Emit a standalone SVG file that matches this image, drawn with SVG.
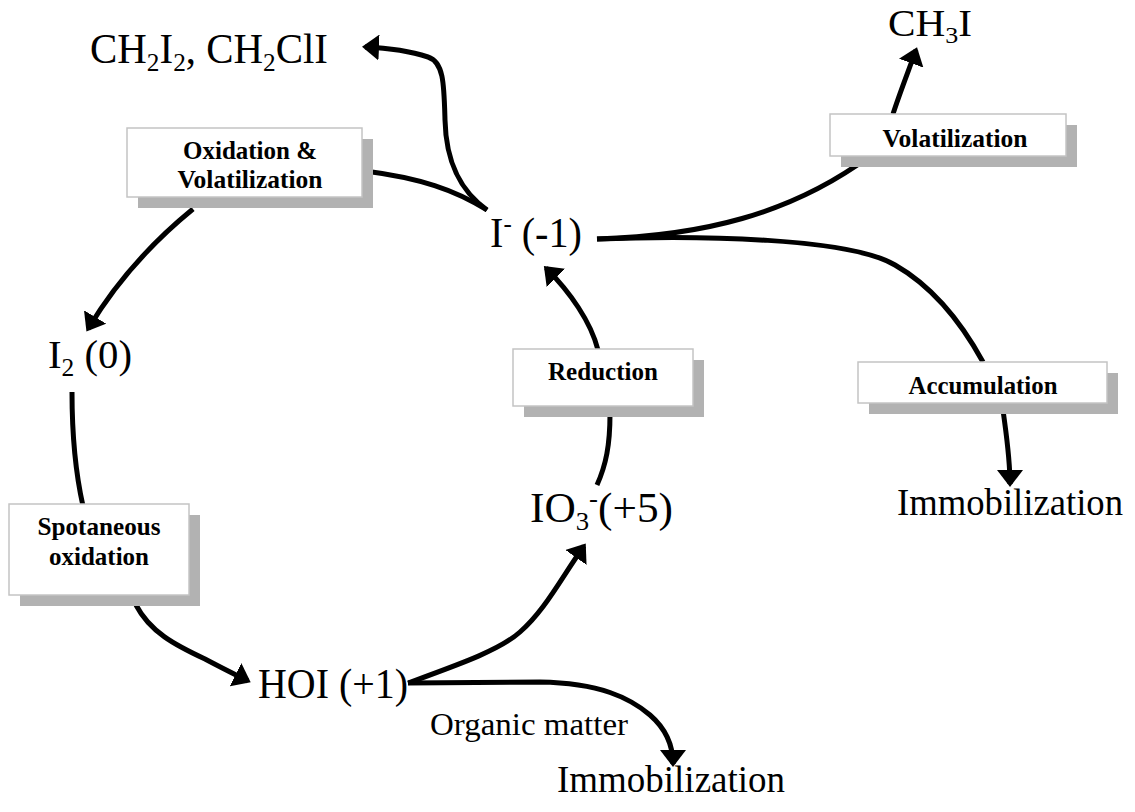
<svg xmlns="http://www.w3.org/2000/svg" width="1135" height="812" viewBox="0 0 1135 812">
<defs>
<style>
.c{fill:none;stroke:#000;stroke-width:5;stroke-linecap:butt}
.a{marker-end:url(#ah)}
.t{font-family:"Liberation Serif","Times New Roman",serif;fill:#000}
.b{font-family:"Liberation Serif","Times New Roman",serif;font-weight:bold;font-size:25px;fill:#000;text-anchor:middle}
.box{fill:#fff;stroke:#c4c4c4;stroke-width:1.5}
.sh{fill:#b2b2b2}
</style>
<marker id="ah" markerUnits="userSpaceOnUse" viewBox="0 0 17 26" markerWidth="17" markerHeight="26" refX="14" refY="13" orient="auto">
<path d="M0,0 L17,13 L0,26 Z" fill="#000"/>
</marker>
</defs>
<rect width="1135" height="812" fill="#fff"/>
<g id="connectors">
<path class="c" d="M487,210 C455,190 420,178 365,171"/>
<path class="c a" d="M193,209 Q128,262 88,329"/>
<path class="c a" d="M487,210 C462,192 446,165 445,120 C444,85 444,62 428,57 C410,51 388,48 365,47"/>
<path class="c" d="M597,239 C700,236 790,215 870,156"/>
<path class="c a" d="M893,114 C898,98 905,80 916,50"/>
<path class="c" d="M597,239 C700,235 850,238 895,265 C930,285 960,320 983,362"/>
<path class="c a" d="M1003,410 C1007,440 1010,458 1010,484"/>
<path class="c" d="M597,485 C606,465 610,445 610,414"/>
<path class="c a" d="M598,350 C591,322 570,292 546,268"/>
<path class="c a" d="M408,683 C460,664 500,650 520,632 C545,610 560,580 584,546"/>
<path class="c a" d="M408,683 L540,682 C600,683 630,698 650,715 C665,728 673,745 673,764"/>
<path class="c" d="M72,392 C72,440 76,475 83,506"/>
<path class="c a" d="M136,605 C150,632 175,645 205,659 C220,667 232,673 248,681"/>
</g>
<g id="n-ox">
<rect class="sh" x="138" y="139" width="235" height="69"/>
<rect class="box" x="127" y="128" width="235" height="69"/>
<text class="b" x="250" y="159" textLength="134" lengthAdjust="spacingAndGlyphs">Oxidation &amp;</text>
<text class="b" x="250" y="188" textLength="145" lengthAdjust="spacingAndGlyphs">Volatilization</text>
</g>
<g id="n-vol">
<rect class="sh" x="841" y="125" width="236" height="42"/>
<rect class="box" x="830" y="114" width="236" height="42"/>
<text class="b" x="955" y="147" textLength="145" lengthAdjust="spacingAndGlyphs">Volatilization</text>
</g>
<g id="n-red">
<rect class="sh" x="524" y="360" width="180" height="57"/>
<rect class="box" x="513" y="349" width="180" height="57"/>
<text class="b" x="603" y="380" textLength="110" lengthAdjust="spacingAndGlyphs">Reduction</text>
</g>
<g id="n-acc">
<rect class="sh" x="869" y="373" width="249" height="41"/>
<rect class="box" x="858" y="362" width="249" height="41"/>
<text class="b" x="983" y="394" textLength="149" lengthAdjust="spacingAndGlyphs">Accumulation</text>
</g>
<g id="n-spo">
<rect class="sh" x="20" y="515" width="180" height="91"/>
<rect class="box" x="9" y="504" width="180" height="91"/>
<text class="b" x="99" y="535" textLength="123" lengthAdjust="spacingAndGlyphs">Spotaneous</text>
<text class="b" x="99" y="565" textLength="100" lengthAdjust="spacingAndGlyphs">oxidation</text>
</g>
<g id="n-ch2i2">
<text class="t" x="90" y="63" font-size="42" textLength="238" lengthAdjust="spacingAndGlyphs">CH<tspan dy="8" font-size="26">2</tspan><tspan dy="-8">I</tspan><tspan dy="8" font-size="26">2</tspan><tspan dy="-8">, CH</tspan><tspan dy="8" font-size="26">2</tspan><tspan dy="-8">ClI</tspan></text>
</g>
<g id="n-ch3i">
<text class="t" x="888" y="36" font-size="38" textLength="84" lengthAdjust="spacingAndGlyphs">CH<tspan dy="7" font-size="24">3</tspan><tspan dy="-7">I</tspan></text>
</g>
<g id="n-iodide">
<text class="t" x="490" y="247" font-size="42" textLength="92" lengthAdjust="spacingAndGlyphs">I<tspan dy="-15" font-size="26">-</tspan><tspan dy="15"> (-1)</tspan></text>
</g>
<g id="n-i2">
<text class="t" x="48" y="368" font-size="40" textLength="84" lengthAdjust="spacingAndGlyphs">I<tspan dy="8" font-size="25">2</tspan><tspan dy="-8"> (0)</tspan></text>
</g>
<g id="n-io3">
<text class="t" x="530" y="522" font-size="42" textLength="143" lengthAdjust="spacingAndGlyphs">IO<tspan dy="8" font-size="26">3</tspan><tspan dy="-23" font-size="26">-</tspan><tspan dy="15">(+5)</tspan></text>
</g>
<g id="n-hoi">
<text class="t" x="258" y="698" font-size="42" textLength="150" lengthAdjust="spacingAndGlyphs">HOI (+1)</text>
</g>
<g id="n-om">
<text class="t" x="430" y="735" font-size="31" textLength="198" lengthAdjust="spacingAndGlyphs">Organic matter</text>
</g>
<g id="n-imm1">
<text class="t" x="557" y="792" font-size="38" textLength="228" lengthAdjust="spacingAndGlyphs">Immobilization</text>
</g>
<g id="n-imm2">
<text class="t" x="897" y="515" font-size="38" textLength="226" lengthAdjust="spacingAndGlyphs">Immobilization</text>
</g>
</svg>
